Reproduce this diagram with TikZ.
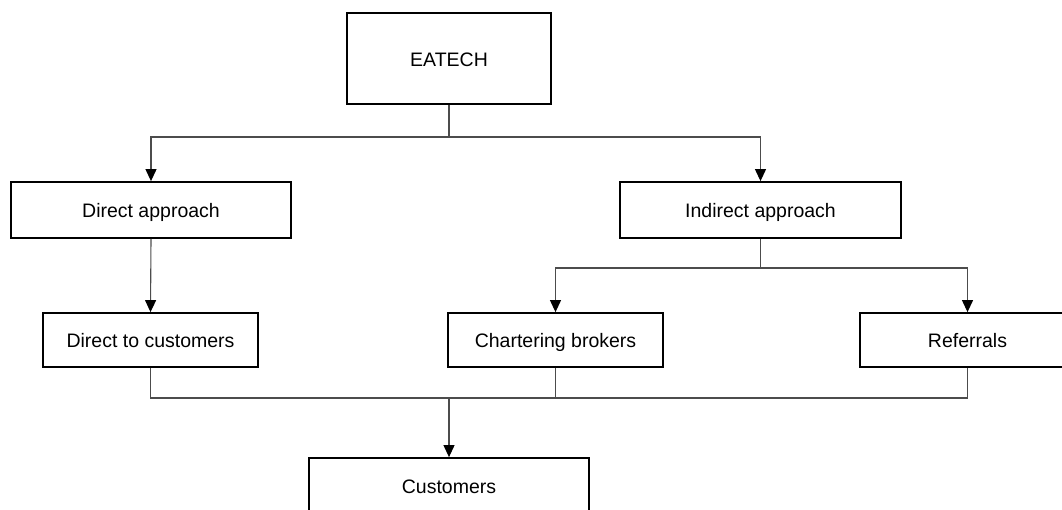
\documentclass[tikz,border=0pt]{standalone}
\usepackage{fontspec}
\setmainfont{Liberation Sans}
\usetikzlibrary{arrows.meta}
\begin{document}
\begin{tikzpicture}[x=1pt,y=-1pt,
  box/.style={draw=black,line width=1.8pt,fill=white,inner sep=0pt,
    text height=17pt,text depth=2pt,
    font=\fontsize{19.5}{23}\selectfont},
  conn/.style={draw=black!70,line width=1.1pt},
  arr/.style={conn,-{Triangle[width=11pt,length=12pt,color=black]}}]
\useasboundingbox (0,0) rectangle (1062,509);
\clip (0,0) rectangle (1062,509);
\node[box,minimum width=204pt,minimum height=91pt] (eatech) at (449,58.5) {EATECH};
\node[box,minimum width=280pt,minimum height=56pt] (direct) at (151,210) {Direct approach};
\node[box,minimum width=281pt,minimum height=56pt] (indirect) at (760.5,210) {Indirect approach};
\node[box,minimum width=215pt,minimum height=54pt] (dtc) at (150.5,340) {Direct to customers};
\node[box,minimum width=215pt,minimum height=54pt] (cb) at (555.5,340) {Chartering brokers};
\node[box,minimum width=215pt,minimum height=54pt] (ref) at (967.5,340) {Referrals};
\node[box,minimum width=280pt,minimum height=56pt] (cust) at (449,486) {Customers};
\coordinate (top) at (449,137);
\coordinate (mid) at (760.5,268);
\coordinate (bot) at (449,398);
\draw[conn] (eatech.south) -- (top);
\draw[arr] (top) -| (direct.north);
\draw[arr] (top) -| (indirect.north);
\draw[arr] (direct.south) -- (dtc.north);
\draw[conn] (indirect.south) -- (mid);
\draw[arr] (mid) -| (cb.north);
\draw[arr] (mid) -| (ref.north);
\draw[conn] (dtc.south) |- (bot);
\draw[conn] (ref.south) |- (bot);
\draw[conn] (cb.south) -- (cb.south |- bot);
\draw[arr] (bot) -- (cust.north);
\end{tikzpicture}
\end{document}
